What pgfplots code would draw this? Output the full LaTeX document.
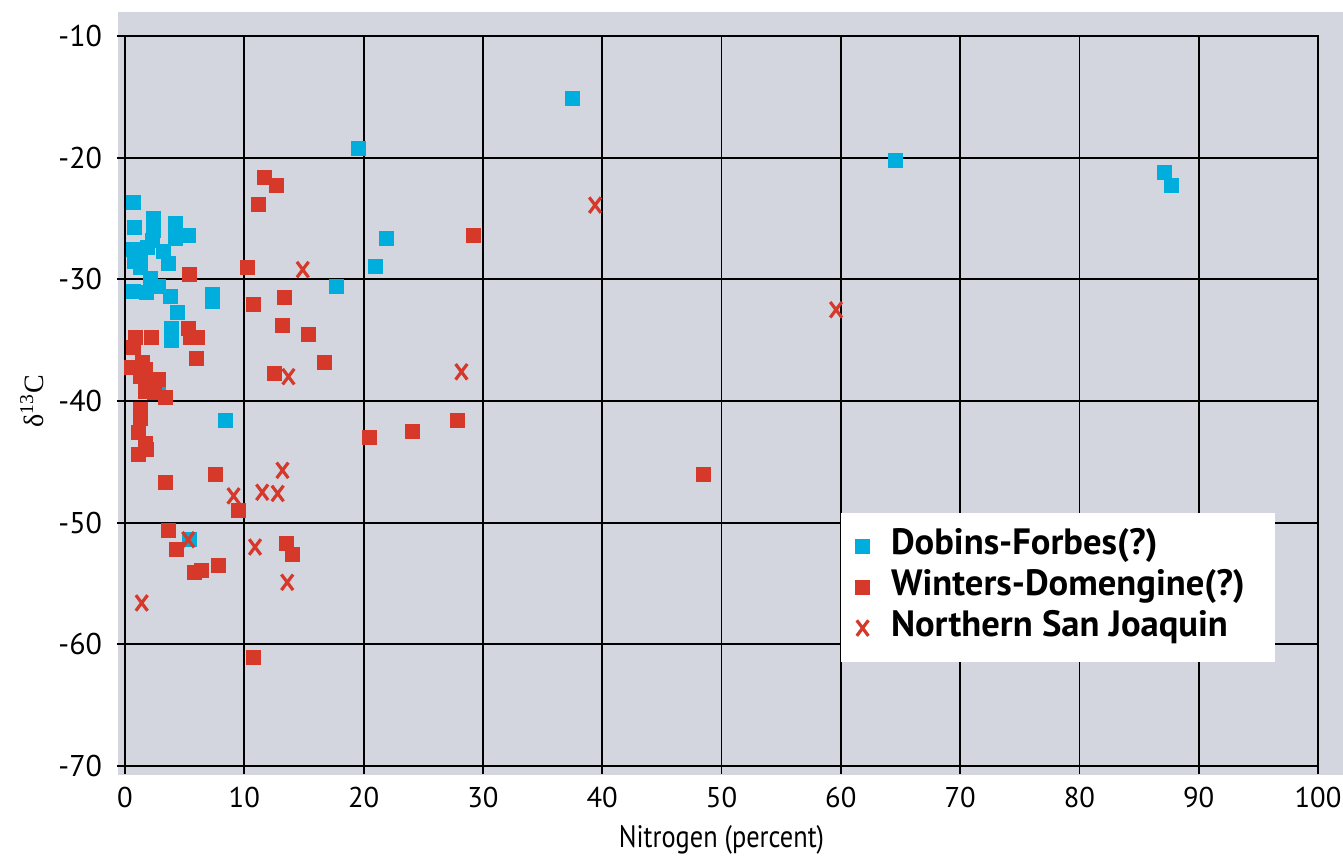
\documentclass[border=0pt]{standalone}
\usepackage{fontspec}
\setmainfont{PT Sans}
\newfontfamily\condfont[FakeStretch=0.85]{PT Sans}
\newfontfamily\seriffont{Liberation Serif}
\usepackage{pgfplots}
\pgfplotsset{compat=1.18}
\definecolor{bgc}{RGB}{211,214,222}
\definecolor{cyanm}{RGB}{0,174,222}
\definecolor{redm}{RGB}{214,56,42}
\begin{document}
\begin{tikzpicture}[x=1bp,y=1bp]
\useasboundingbox (-62.5,-46) rectangle (609,383);
\fill[bgc] (-3.5,-4.5) rectangle (609,377);
\begin{axis}[
  at={(0,0)}, anchor=south west,
  scale only axis, width=596.5bp, height=365bp,
  xmin=0, xmax=100, ymin=-70, ymax=-10,
  xtick={0,10,20,30,40,50,60,70,80,90,100},
  xticklabels={0,10,20,30,40,50,60,70,80,90,100},
  ytick={-70,-60,-50,-40,-30,-20,-10},
  yticklabels={-70,-60,-50,-40,-30,-20,-10},
  grid=major,
  grid style={black, line width=0.9bp},
  axis line style={black, line width=0.9bp},
  tick style={black, line width=0.9bp},
  tick align=outside, tick pos=left,
  major tick length=4bp,
  xticklabel style={font=\fontsize{14.3bp}{16bp}\selectfont, yshift=-3bp},
  yticklabel style={font=\fontsize{15bp}{17bp}\selectfont, xshift=-4bp},
  xlabel={\condfont Nitrogen (percent)},
  xlabel style={font=\fontsize{15.5bp}{18bp}\selectfont, at={(axis description cs:0.5,-0.101)}, anchor=center},
  ylabel={\seriffont δ\textsuperscript{13}C},
  ylabel style={font=\fontsize{14bp}{16bp}\selectfont, at={(axis description cs:-0.078,0.5)}, anchor=center},
  legend style={
    at={(axis description cs:0.6,0.1425)}, anchor=south west,
    draw=none, fill=white,
    font=\fontsize{18.3bp}{20bp}\selectfont\bfseries,
    inner xsep=5bp, inner ysep=9bp,
    row sep=5bp, column sep=0bp,
    nodes={inner sep=0pt, text height=12bp, text depth=3.5bp},
  },
  legend cell align=left,
  legend image code/.code={\path (0bp,0bp) (19.5bp,0bp); \draw[#1] plot coordinates {(5.5bp,0bp)};},
]
\addplot[only marks, mark=square*, mark size=3.5bp, color=cyanm, draw=none, mark options={draw=none, fill=cyanm}] coordinates {
(37.5,-15.1) (19.6,-19.2) (64.6,-20.2) (87.1,-21.2) (87.7,-22.3)
(21.9,-26.6) (21.0,-28.9) (17.7,-30.6) (8.4,-41.6) (5.4,-51.4)
(2.8,-39.2) (0.7,-23.7) (2.4,-25.0) (2.4,-26.0) (2.3,-26.8)
(0.8,-25.7) (4.2,-25.4) (5.3,-26.4) (4.2,-26.6) (0.7,-27.5)
(1.3,-27.8) (0.8,-28.5) (1.3,-29.0) (1.9,-27.4) (3.2,-27.7)
(3.6,-28.7) (2.1,-29.9) (0.7,-31.0) (1.8,-31.1) (2.8,-30.6)
(3.8,-31.4) (4.4,-32.7) (7.3,-31.2) (7.3,-31.8) (3.9,-34.0)
(3.9,-35.0)
};
\addlegendentry{Dobins-Forbes(?)}
\addplot[only marks, mark=square*, mark size=3.5bp, color=redm, mark options={draw=none, fill=redm}] coordinates {
(5.4,-29.6) (11.7,-21.6) (12.7,-22.3) (11.2,-23.8) (10.3,-29.0)
(29.2,-26.4) (10.8,-32.1) (13.4,-31.5) (13.2,-33.8) (15.4,-34.5)
(16.7,-36.8) (12.5,-37.7) (5.3,-34.0) (5.5,-34.8) (6.1,-34.8)
(6.0,-36.5) (0.9,-34.8) (2.2,-34.8) (0.7,-35.6) (0.5,-37.2)
(1.5,-36.8) (1.7,-37.4) (2.8,-38.2) (1.3,-38.0) (2.2,-38.5)
(3.4,-39.7) (2.5,-39.3) (1.7,-39.2) (1.3,-40.7) (1.3,-41.4)
(1.1,-42.6) (1.7,-43.5) (1.1,-44.4) (1.8,-44.0) (3.4,-46.7)
(7.6,-46.0) (9.5,-49.0) (3.6,-50.6) (4.3,-52.2) (5.8,-54.1)
(6.4,-53.9) (7.8,-53.5) (13.5,-51.7) (14.0,-52.6) (10.8,-61.1)
(20.5,-43.0) (24.1,-42.5) (27.9,-41.6) (48.5,-46.0)
};
\addlegendentry{Winters-Domengine(?)\rule{10bp}{0pt}}
\addplot[only marks, mark=x, mark size=5.5bp, color=redm, mark options={xscale=0.75, line width=1.6bp}] coordinates {
(39.4,-23.9) (59.6,-32.5) (28.2,-37.6) (14.9,-29.2) (13.7,-38.0)
(13.2,-45.7) (11.5,-47.5) (12.8,-47.6) (9.1,-47.8) (5.3,-51.4)
(10.9,-52.0) (13.6,-54.9) (1.4,-56.6)
};
\addlegendentry{Northern San Joaquin}
\end{axis}
\end{tikzpicture}
\end{document}
